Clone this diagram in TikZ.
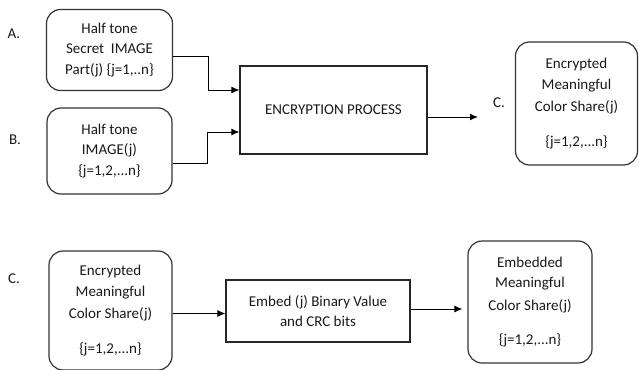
\documentclass[tikz,border=0pt]{standalone}
\usepackage{fontspec}
\setmainfont{Carlito}
\usetikzlibrary{arrows.meta}
\begin{document}
\begin{tikzpicture}[x=1pt,y=-1pt,
  rbox/.style={draw=black!80, line width=1.2pt, rounded corners=14pt, align=center, inner sep=0pt},
  sbox/.style={draw=black!85, line width=1.1pt, align=center, inner sep=0pt},
  conn/.style={draw=black, line width=1pt, -{Latex[length=8pt,width=7pt]}},
  txt/.style={font=\fontsize{15}{20.5}\selectfont, text=black!90},
  lbl/.style={font=\fontsize{15}{17}\selectfont, text=black!90, inner sep=0pt}]
\useasboundingbox (0,0) rectangle (639,369);
% top row
\node[rbox, txt, minimum width=126pt, minimum height=81pt] (A) at (109.5,50)
  {Half tone\\Secret\ \ IMAGE\\Part(j) \{j=1,..n\}};
\node[rbox, txt, minimum width=125pt, minimum height=86pt] (B) at (109.5,151)
  {Half tone\\IMAGE(j)\\\{j=1,2,...n\}};
\node[sbox, txt, minimum width=187pt, minimum height=88pt] (enc) at (333.5,110)
  {ENCRYPTION PROCESS};
\node[rbox, txt, minimum width=122pt, minimum height=123pt] (C) at (576.5,103.5)
  {Encrypted\\Meaningful\\[2pt]Color Share(j)\\[14pt]\{j=1,2,...n\}};
\coordinate (cin) at (478,117);
\node[lbl] (la) at (14,34) {A.};
\node[lbl] (lb) at (15,140) {B.};
\node[lbl] (lc) at (499,103) {C.};
% bottom row
\node[rbox, txt, minimum width=123pt, minimum height=119pt] (C2) at (110.5,310.5)
  {Encrypted\\Meaningful\\[2pt]Color Share(j)\\[14pt]\{j=1,2,...n\}};
\node[sbox, txt, minimum width=184pt, minimum height=62pt] (emb) at (318,311)
  {Embed (j) Binary Value\\and CRC bits};
\node[rbox, txt, minimum width=124pt, minimum height=122pt] (D) at (530,302)
  {Embedded\\Meaningful\\[2pt]Color Share(j)\\[14pt]\{j=1,2,...n\}};
\node[lbl] (lc2) at (14,279) {C.};
% connectors
\draw[conn] ([yshift=-7pt]A.east) -- ++(35,0) |- ([yshift=20pt]enc.west);
\draw[conn] ([yshift=-12pt]B.east) -- ++(35,0) |- ([yshift=-22pt]enc.west);
\draw[conn] ([yshift=-7pt]enc.east) -- (cin);
\draw[conn] ([yshift=-3pt]C2.east) -- ([yshift=-3pt]C2.east -| emb.west);
\draw[conn, shorten >=5pt] ([yshift=2pt]emb.east) -- ([yshift=2pt]emb.east -| D.west);
\end{tikzpicture}
\end{document}
